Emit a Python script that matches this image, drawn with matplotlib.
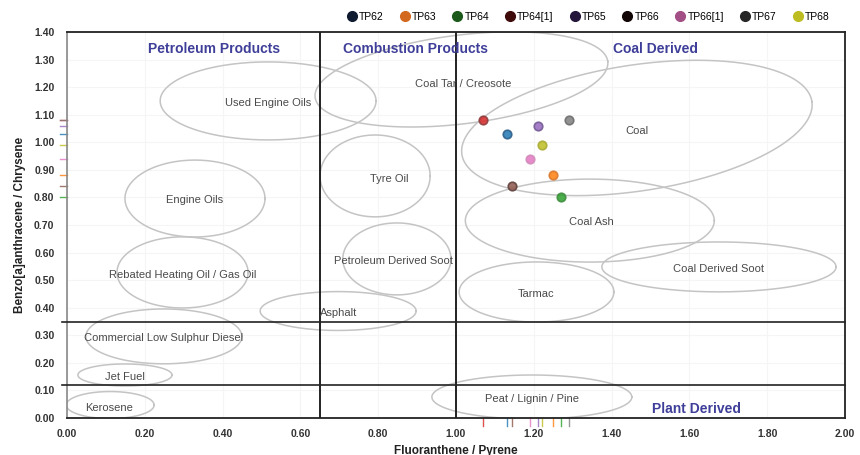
import numpy as np
import matplotlib
matplotlib.use("Agg")
import matplotlib.pyplot as plt
from matplotlib.lines import Line2D

plt.rcParams['font.family'] = ['Liberation Sans', 'DejaVu Sans']

# ---------------- data ----------------
samples = ["TP62", "TP63", "TP64", "TP64[1]", "TP65", "TP66", "TP66[1]", "TP67", "TP68"]
fl_py = [1.13, 1.25, 1.27, 1.07, 1.21, 1.145, 1.19, 1.29, 1.22]
baa_chr = [1.03, 0.88, 0.80, 1.08, 1.06, 0.84, 0.94, 1.08, 0.99]
point_colors = ["#1f77b4", "#ff7f0e", "#2ca02c", "#d62728", "#9467bd",
                "#8c564b", "#e377c2", "#7f7f7f", "#bcbd22"]
edge_colors = ["#2b5a85", "#d9762a", "#3d8a3d", "#8a3a3a", "#6f5690",
               "#5a3d38", "#d08ab8", "#6a6a6a", "#a8a830"]
legend_colors = ["#0d1a30", "#d2691e", "#1b5a1b", "#3f0a0a", "#24163a",
                 "#120505", "#a24f86", "#262626", "#bdbd22"]

# source ellipses: centre x, centre y, width (x units), height (y units), angle (deg on screen)
regions = ["Used Engine Oils", "Coal Tar / Creosote", "Coal", "Tyre Oil", "Engine Oils",
           "Coal Ash", "Rebated Heating Oil / Gas Oil", "Petroleum Derived Soot",
           "Coal Derived Soot", "Tarmac", "Asphalt", "Commercial Low Sulphur Diesel",
           "Jet Fuel", "Kerosene", "Peat / Lignin / Pine"]
ell_cx = [0.517, 1.014, 1.465, 0.792, 0.329, 1.344, 0.297, 0.848, 1.676, 1.207, 0.697, 0.249, 0.149, 0.111, 1.195]
ell_cy = [1.150, 1.228, 1.052, 0.878, 0.796, 0.716, 0.528, 0.577, 0.548, 0.457, 0.388, 0.296, 0.156, 0.047, 0.076]
ell_w = [0.555, 0.758, 0.910, 0.283, 0.360, 0.640, 0.337, 0.278, 0.602, 0.398, 0.401, 0.401, 0.242, 0.226, 0.514]
ell_h = [0.283, 0.322, 0.457, 0.297, 0.279, 0.301, 0.258, 0.261, 0.181, 0.218, 0.141, 0.199, 0.080, 0.098, 0.160]
ell_ang = [0, 7, 8.6, 0, 0, 0, 0, 0, 0, 0, 0, 0, 0, 0, 0]
lab_x = [0.517, 1.018, 1.465, 0.828, 0.329, 1.347, 0.298, 0.838, 1.674, 1.206, 0.697, 0.247, 0.149, 0.108, 1.195]
lab_y = [1.143, 1.212, 1.041, 0.867, 0.791, 0.711, 0.519, 0.569, 0.540, 0.450, 0.381, 0.290, 0.149, 0.036, 0.069]

groups = ["Petroleum Products", "Combustion Products", "Coal Derived", "Plant Derived"]
group_x = [0.378, 0.895, 1.512, 1.617]
group_y = [1.338, 1.338, 1.338, 0.033]

v_lines = [0.65, 1.00]
h_lines = [0.35, 0.12]

x_ticks = [0.0, 0.2, 0.4, 0.6, 0.8, 1.0, 1.2, 1.4, 1.6, 1.8, 2.0]
y_ticks = [0.0, 0.1, 0.2, 0.3, 0.4, 0.5, 0.6, 0.7, 0.8, 0.9, 1.0, 1.1, 1.2, 1.3, 1.4]
x_lim = (0.0, 2.0)
y_lim = (0.0, 1.4)

# ---------------- figure ----------------
W, H, DPI = 860, 455, 100
fig = plt.figure(figsize=(W / DPI, H / DPI), dpi=DPI)
ax_l, ax_b, ax_w, ax_h = 67 / W, 1 - 418 / H, (845 - 67) / W, (418 - 32) / H
ax = fig.add_axes([ax_l, ax_b, ax_w, ax_h])
ax.set_xlim(*x_lim)
ax.set_ylim(*y_lim)

ax.set_xticks(x_ticks)
ax.set_yticks(y_ticks)
ax.set_xticklabels([f"{v:.2f}" for v in x_ticks])
ax.set_yticklabels([f"{v:.2f}" for v in y_ticks])
ax.tick_params(axis='both', length=0, labelsize=7.5, labelcolor='#333333')
ax.tick_params(axis='x', pad=8)
ax.tick_params(axis='y', pad=9)
for lbl in ax.get_xticklabels() + ax.get_yticklabels():
    lbl.set_fontweight('bold')
ax.grid(True, color='#f5f5f5', linewidth=0.8)
ax.set_axisbelow(True)

for side in ['top', 'right', 'bottom']:
    ax.spines[side].set_color('#222222')
    ax.spines[side].set_linewidth(1.3)
ax.spines['left'].set_color('#888888')
ax.spines['left'].set_linewidth(1.2)

ax.set_xlabel("Fluoranthene / Pyrene", fontsize=8.5, fontweight='bold', color='#222222', labelpad=4)
ax.set_ylabel("Benzo[a]anthracene / Chrysene", fontsize=8.5, fontweight='bold', color='#222222', labelpad=6)

# dividing lines
for xv in v_lines:
    ax.axvline(xv, color='#222222', linewidth=1.4, zorder=3)
for yv in h_lines:
    ax.plot([-0.006, 1.0], [yv, yv], transform=ax.get_yaxis_transform(),
            color='#222222', linewidth=1.2, clip_on=False, zorder=3)

# ellipses (angle given in screen space)
sx = ax_w * W / (x_lim[1] - x_lim[0])
sy = ax_h * H / (y_lim[1] - y_lim[0])
t = np.linspace(0, 2 * np.pi, 300)
for cx, cy, w, h, ang in zip(ell_cx, ell_cy, ell_w, ell_h, ell_ang):
    a_px, b_px = w * sx / 2, h * sy / 2
    th = np.deg2rad(ang)
    dx = a_px * np.cos(t) * np.cos(th) - b_px * np.sin(t) * np.sin(th)
    dy = a_px * np.cos(t) * np.sin(th) + b_px * np.sin(t) * np.cos(th)
    ax.plot(cx + dx / sx, cy + dy / sy, color='#c4c4c4', linewidth=1.1, zorder=2)

for name, lx, ly in zip(regions, lab_x, lab_y):
    ax.text(lx, ly, name, fontsize=8, color='#4a4a4a', ha='center', va='center', zorder=4)

for name, gx, gy in zip(groups, group_x, group_y):
    ax.text(gx, gy, name, fontsize=10, fontweight='bold', color='#3f3f9a',
            ha='center', va='center', zorder=4)

# points
for x, y, c, ec in zip(fl_py, baa_chr, point_colors, edge_colors):
    ax.scatter([x], [y], s=38, color=c, edgecolors=ec, linewidths=1.2, alpha=0.85, zorder=6)

# rug marks
for x, y, c in zip(fl_py, baa_chr, point_colors):
    ax.plot([x, x], [0, -0.021], transform=ax.get_xaxis_transform(), color=c,
            linewidth=1.0, clip_on=False, alpha=0.8)
    ax.plot([-0.009, 0], [y, y], transform=ax.get_yaxis_transform(), color=c,
            linewidth=1.0, clip_on=False, alpha=0.8)

# legend
handles = [Line2D([0], [0], marker='o', linestyle='none', markersize=7,
                  markerfacecolor=c, markeredgecolor=c) for c in legend_colors]
fig.legend(handles, samples, loc='center', bbox_to_anchor=(588 / W, 1 - 17 / H),
           ncol=9, frameon=False, fontsize=7.5, handletextpad=0.2,
           columnspacing=1.5, handlelength=1.0, borderaxespad=0)

fig.savefig("out.png", dpi=DPI)
